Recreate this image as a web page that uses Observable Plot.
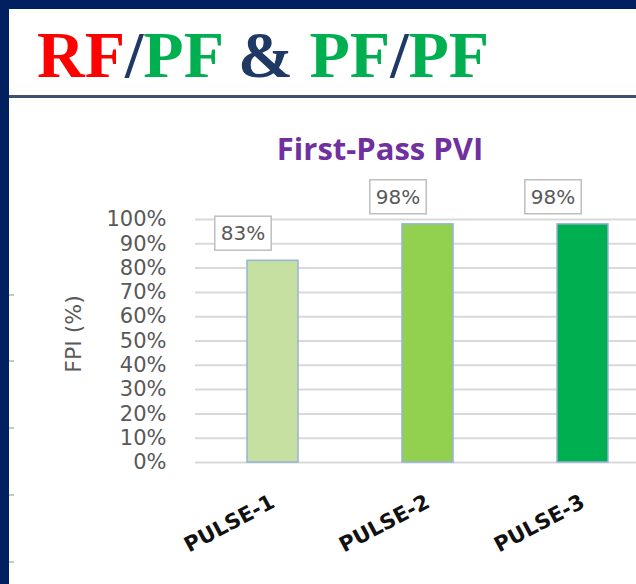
<!DOCTYPE html>
<html>
<head>
<meta charset="utf-8">
<script src="https://cdn.jsdelivr.net/npm/d3@7"></script>
<script src="https://cdn.jsdelivr.net/npm/@observablehq/plot@0.6"></script>
<style>
  html, body { margin: 0; padding: 0; background: #fff; }
  #page { position: relative; width: 636px; height: 584px; overflow: hidden; background: #fff; }
  .navy { position: absolute; background: #012060; }
  #headline { position: absolute; left: 37px; top: 22px; margin: 0; font-family: "Liberation Serif", serif; font-weight: bold; font-size: 66px; line-height: 66px; white-space: nowrap; }
  #rule { position: absolute; left: 9px; right: 0; top: 95px; height: 3px; background: #3A5270; }
  #ctitle { position: absolute; left: 180px; width: 400px; top: 133px; text-align: center; font-family: "Open Sans", sans-serif; font-weight: bold; font-size: 31px; line-height: 31px; color: #7030A0; }
  #chart { position: absolute; left: 0; top: 170px; }
  .mark { position: absolute; left: 9px; width: 5px; height: 1.5px; background: #C8C8C8; }
</style>
</head>
<body>
<div id="page">
  <div class="navy" style="left:0;top:0;width:636px;height:9px"></div>
  <div class="navy" style="left:0;top:0;width:9px;height:584px"></div>
  <div class="mark" style="top:294px"></div>
  <div class="mark" style="top:360px"></div>
  <div class="mark" style="top:427px"></div>
  <div class="mark" style="top:494px"></div>
  <div class="mark" style="top:561px"></div>
  <h1 id="headline"><span style="color:#FF0000">RF</span><span style="color:#1F3864">/</span><span style="color:#00B050">PF</span> <span style="color:#1F3864">&amp;</span> <span style="color:#00B050">PF</span><span style="color:#1F3864">/</span><span style="color:#00B050">PF</span></h1>
  <div id="rule"></div>
  <div id="ctitle">First-Pass PVI</div>
  <div id="chart"></div>
</div>
<script>
const categories = ["PULSE-1", "PULSE-2", "PULSE-3"];
const fpiValues = [0.83, 0.98, 0.98];
const barColors = ["#C5E0A1", "#92D050", "#00B050"];
const yTicks = [0, 0.1, 0.2, 0.3, 0.4, 0.5, 0.6, 0.7, 0.8, 0.9, 1.0];
const yLabel = "FPI (%)";

const data = categories.map((c, i) => ({cat: c, value: fpiValues[i]}));

const chart = Plot.plot({
  width: 636,
  height: 414,
  marginLeft: 195,
  marginRight: 0,
  marginTop: 49,
  marginBottom: 122,
  style: {fontFamily: "DejaVu Sans, sans-serif", background: "transparent"},
  x: {domain: categories, range: [195, 660], paddingInner: 0.67, paddingOuter: 0.335},
  y: {domain: [0, 1]},
  color: {domain: categories, range: barColors},
  marks: [
    Plot.gridY(yTicks, {stroke: "#D9D9D9", strokeOpacity: 1, strokeWidth: 2}),
    Plot.axisY({
      ticks: yTicks,
      tickFormat: d => Math.round(d * 100) + "%",
      tickSize: 0,
      tickPadding: 29,
      fontSize: 21,
      fill: "#595959",
      label: null
    }),
    Plot.text([yLabel], {
      frameAnchor: "left",
      textAnchor: "middle",
      rotate: -90,
      dx: -122,
      dy: -7,
      fontSize: 22,
      fill: "#595959"
    }),
    Plot.axisX({
      tickSize: 0,
      tickRotate: -28,
      tickPadding: 38,
      fontSize: 21,
      fontWeight: "bold",
      fill: "#111",
      label: null
    }),
    Plot.barY(data, {x: "cat", y: "value", fill: "cat", stroke: "#95B3D7", strokeWidth: 1.5}),
    Plot.text(data, {
      x: "cat",
      y: "value",
      text: d => Math.round(d.value * 100) + "%",
      dx: -30,
      dy: -27,
      fontSize: 20,
      fill: "#595959",
      className: "lbl"
    })
  ]
});
document.getElementById("chart").appendChild(chart);

// draw boxes behind data labels
const svgNS = "http://www.w3.org/2000/svg";
chart.querySelectorAll(".lbl text").forEach(t => {
  const b = t.getBBox();
  const r = document.createElementNS(svgNS, "rect");
  const px = 6, py = 5;
  r.setAttribute("x", b.x - px);
  r.setAttribute("y", b.y - py);
  r.setAttribute("width", b.width + 2 * px);
  r.setAttribute("height", b.height + 2 * py);
  r.setAttribute("fill", "#fff");
  r.setAttribute("stroke", "#BFBFBF");
  r.setAttribute("stroke-width", "1.5");
  const tr = t.getAttribute("transform");
  if (tr) r.setAttribute("transform", tr);
  t.parentNode.insertBefore(r, t);
});
</script>
</body>
</html>
